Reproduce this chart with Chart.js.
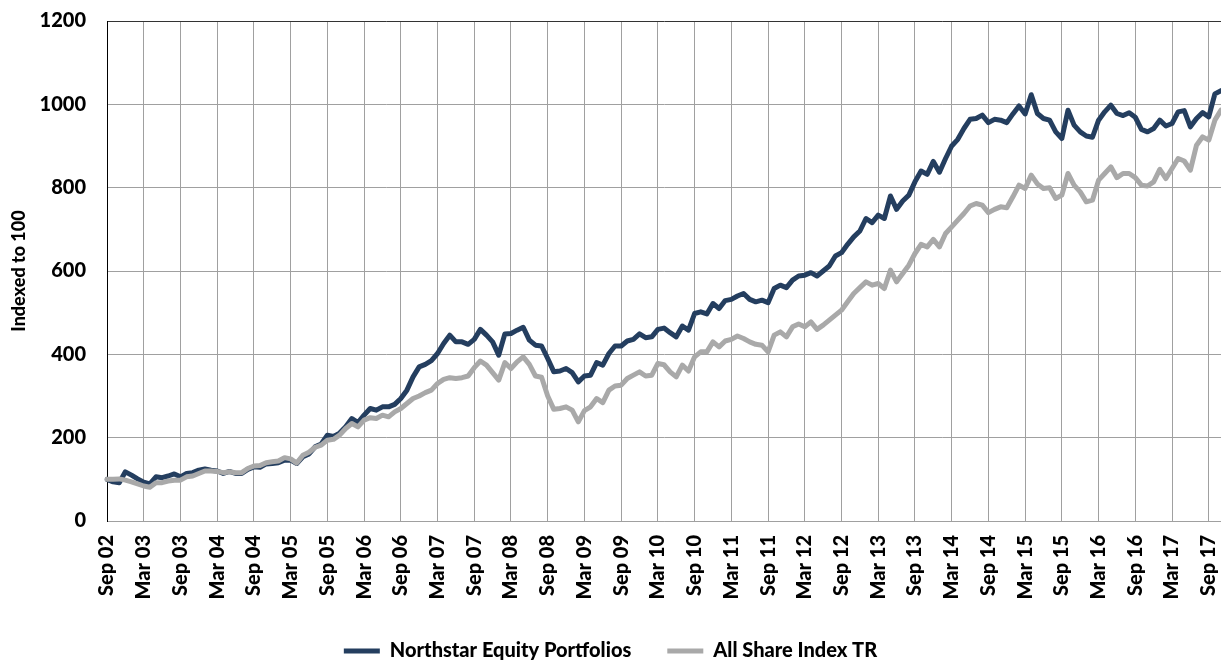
<!DOCTYPE html>
<html>
<head>
<meta charset="utf-8">
<title>Northstar Equity Portfolios</title>
<script src="https://cdn.jsdelivr.net/npm/chart.js@4.4.0/dist/chart.umd.min.js"></script>
<style>
  html, body { margin: 0; padding: 0; background: #fff; }
  #wrap { width: 1221px; height: 661px; }
</style>
</head>
<body>
<div id="wrap"><canvas id="grafica" width="1221" height="661"></canvas></div>
<script>
// meses del eje x: Sep 02 .. Nov 17, una etiqueta cada 6 meses
var meses = ['Jan', 'Feb', 'Mar', 'Apr', 'May', 'Jun', 'Jul', 'Aug', 'Sep', 'Oct', 'Nov', 'Dec'];
var mesInicio = 8;   // Sep
var anioInicio = 2;  // 2002
var numMeses = 183;
var cadaCuantos = 6;

var yTicks = [0, 200, 400, 600, 800, 1000, 1200];

var northstar = [
  100, 94, 92, 118, 110, 101, 93, 89, 106, 104, 108, 113,
  106, 114, 116, 122, 125, 122, 120, 114, 119, 114, 114, 124,
  130, 129, 137, 138, 140, 146, 146, 138, 154, 161, 178, 185,
  206, 203, 211, 226, 246, 236, 254, 270, 266, 274, 274, 280,
  294, 314, 346, 370, 376, 385, 402, 426, 446, 430, 430, 424,
  436, 460, 446, 430, 398, 449, 450, 458, 465, 434, 422, 420,
  390, 358, 360, 366, 356, 334, 348, 350, 380, 374, 402, 420,
  420, 432, 436, 449, 440, 442, 460, 463, 452, 442, 468, 458,
  498, 502, 497, 522, 510, 529, 532, 540, 546, 532, 526, 530,
  524, 558, 566, 560, 578, 588, 590, 596, 588, 600, 612, 636,
  644, 664, 682, 696, 726, 716, 734, 726, 780, 748, 768, 782,
  814, 840, 832, 863, 837, 870, 900, 916, 942, 964, 966, 974,
  956, 964, 962, 956, 977, 996, 977, 1023, 978, 966, 962, 934,
  918, 986, 950, 934, 924, 921, 962, 982, 998, 978, 973, 980,
  969, 940, 934, 942, 962, 948, 954, 982, 985, 946, 966, 980,
  970, 1025, 1033
];

var allShare = [
  100, 100, 101, 98, 94, 89, 84, 81, 92, 92, 96, 98,
  98, 106, 108, 114, 120, 120, 119, 116, 118, 116, 116, 126,
  132, 133, 140, 142, 144, 152, 149, 139, 158, 165, 177, 182,
  194, 196, 206, 222, 234, 226, 242, 248, 246, 254, 250, 262,
  270, 282, 294, 300, 308, 314, 330, 340, 344, 342, 344, 348,
  368, 384, 374, 356, 338, 380, 366, 382, 394, 376, 348, 345,
  300, 268, 270, 274, 266, 238, 265, 274, 294, 284, 314, 324,
  326, 342, 350, 358, 348, 350, 378, 375, 358, 346, 374, 360,
  394, 406, 406, 430, 418, 432, 436, 444, 438, 430, 424, 422,
  406, 446, 454, 442, 466, 473, 466, 478, 460, 470, 482, 494,
  506, 526, 546, 560, 574, 566, 570, 558, 602, 574, 594, 614,
  642, 664, 658, 676, 658, 690, 706, 722, 738, 756, 762, 758,
  740, 748, 754, 752, 778, 806, 798, 830, 809, 798, 800, 774,
  782, 834, 806, 790, 766, 770, 818, 834, 850, 824, 834, 834,
  824, 806, 804, 814, 844, 822, 846, 870, 864, 842, 902, 922,
  914, 962, 986
];

var etiquetas = [];
for (var i = 0; i < numMeses; i++) {
  var m = (mesInicio + i) % 12;
  var a = anioInicio + Math.floor((mesInicio + i) / 12);
  etiquetas.push(meses[m] + ' ' + (a < 10 ? '0' + a : '' + a));
}

Chart.defaults.font.family = 'Lato, "DejaVu Sans", sans-serif';
Chart.defaults.font.weight = 900;
Chart.defaults.font.size = 20;
Chart.defaults.color = '#000';

var ctx = document.getElementById('grafica').getContext('2d');
var myChart = new Chart(ctx, {
  type: 'line',
  data: {
    labels: etiquetas,
    datasets: [{
      label: 'Northstar Equity Portfolios',
      data: northstar,
      borderColor: '#243E5F',
      backgroundColor: '#243E5F',
      borderWidth: 5,
      borderCapStyle: 'round',
      borderJoinStyle: 'round',
      pointRadius: 0,
      tension: 0,
      order: 1
    }, {
      label: 'All Share Index TR',
      data: allShare,
      borderColor: '#A9A9A9',
      backgroundColor: '#A9A9A9',
      borderWidth: 5,
      borderCapStyle: 'round',
      borderJoinStyle: 'round',
      pointRadius: 0,
      tension: 0,
      order: 0
    }]
  },
  options: {
    responsive: false,
    animation: false,
    devicePixelRatio: 1,
    layout: { padding: { top: 21, right: 0, bottom: -10, left: 0 } },
    plugins: {
      tooltip: { enabled: false },
      legend: {
        position: 'bottom',
        labels: {
          usePointStyle: true,
          pointStyle: 'line',
          pointStyleWidth: 36,
          padding: 36,
          color: '#000',
          sort: function (a, b) { return a.datasetIndex - b.datasetIndex; }
        }
      }
    },
    scales: {
      x: {
        afterFit: function (scale) {
          scale.height = 84;
          scale.paddingLeft = 0;
          scale.paddingRight = 0;
        },
        grid: {
          color: '#A0A0A0',
          lineWidth: 1,
          drawTicks: false
        },
        border: { color: '#A0A0A0', width: 1 },
        ticks: {
          autoSkip: false,
          maxRotation: 90,
          minRotation: 90,
          padding: 14,
          callback: function (val, index) {
            return index % cadaCuantos === 0 ? this.getLabelForValue(val) : null;
          }
        }
      },
      y: {
        min: yTicks[0],
        max: yTicks[yTicks.length - 1],
        afterFit: function (scale) {
          scale.width = 107;
          scale.paddingTop = 0;
          scale.paddingBottom = 0;
        },
        afterBuildTicks: function (scale) {
          scale.ticks = yTicks.map(function (v) { return { value: v }; });
        },
        grid: {
          color: function (c) { return c.tick && c.tick.value === 1200 ? '#333' : '#A0A0A0'; },
          lineWidth: 1,
          drawTicks: false
        },
        border: { color: '#000', width: 1 },
        ticks: {
          padding: 21,
          callback: function (v) { return String(v); }
        },
        title: {
          display: true,
          text: 'Indexed to 100',
          padding: { top: 8, bottom: 0 },
          font: { size: 18, weight: 900 }
        }
      }
    }
  }
});
</script>
</body>
</html>
